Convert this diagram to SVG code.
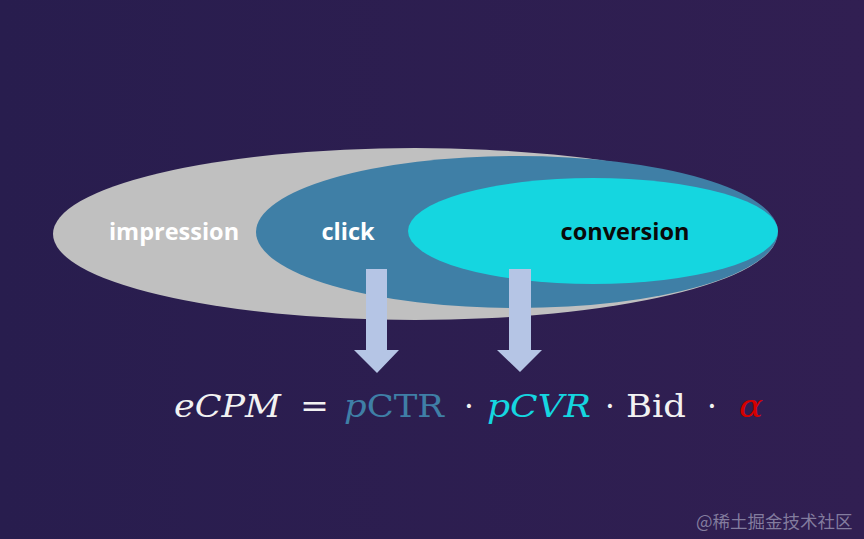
<svg xmlns="http://www.w3.org/2000/svg" width="864" height="539" viewBox="0 0 864 539">
<defs>
<linearGradient id="bg" x1="0" y1="0" x2="1" y2="0">
<stop offset="0" stop-color="#281d4e"/>
<stop offset="1" stop-color="#311f52"/>
</linearGradient>
</defs>
<style>
.lbl{font-family:"Open Sans","Liberation Sans",sans-serif;font-weight:bold;font-size:23.5px}
.math{font-family:"DejaVu Serif","Liberation Serif",serif;font-size:31px}
.it{font-style:italic}
.arrow{fill:#b5c5e5}
</style>
<rect width="864" height="539" fill="url(#bg)"/>
<g id="impression">
<ellipse cx="415" cy="234" rx="362" ry="86" fill="#c0c0c0"/>
<text class="lbl" x="174" y="240" text-anchor="middle" fill="#ffffff">impression</text>
</g>
<g id="click">
<ellipse cx="517" cy="232" rx="261" ry="76" fill="#3f7fa6"/>
<text class="lbl" x="348" y="240" text-anchor="middle" fill="#ffffff">click</text>
</g>
<g id="conversion">
<ellipse cx="593" cy="231" rx="185" ry="53" fill="#15d6e0"/>
<text class="lbl" x="625" y="240" text-anchor="middle" fill="#0a0a0a">conversion</text>
</g>
<g id="connectors">
<polygon class="arrow" points="366,269 387,269 387,350 399,350 377,373 354,350 366,350"/>
<polygon class="arrow" points="509,269 531,269 531,350 542,350 520,372 497,350 509,350"/>
</g>
<g id="formula" class="math">
<text x="174" y="417" fill="#f2f2f2" class="it" textLength="107" lengthAdjust="spacingAndGlyphs">eCPM</text>
<text x="300" y="417" fill="#f2f2f2" textLength="29" lengthAdjust="spacingAndGlyphs">=</text>
<text x="344" y="417" fill="#3f7fa6" textLength="100" lengthAdjust="spacingAndGlyphs"><tspan class="it">p</tspan>CTR</text>
<text x="464" y="417" fill="#f2f2f2">·</text>
<text x="487" y="417" fill="#15d6e0" class="it" textLength="104" lengthAdjust="spacingAndGlyphs">pCVR</text>
<text x="605" y="417" fill="#f2f2f2">·</text>
<text x="626" y="417" fill="#f2f2f2" textLength="60" lengthAdjust="spacingAndGlyphs">Bid</text>
<text x="707" y="417" fill="#f2f2f2">·</text>
<text x="739" y="417" fill="#d40000" class="it" textLength="24" lengthAdjust="spacingAndGlyphs">α</text>
</g>
<text x="696" y="528" font-family="'Noto Sans CJK SC',sans-serif" font-size="17.5" fill="#938ead" fill-opacity="0.85">@稀土掘金技术社区</text>
</svg>
